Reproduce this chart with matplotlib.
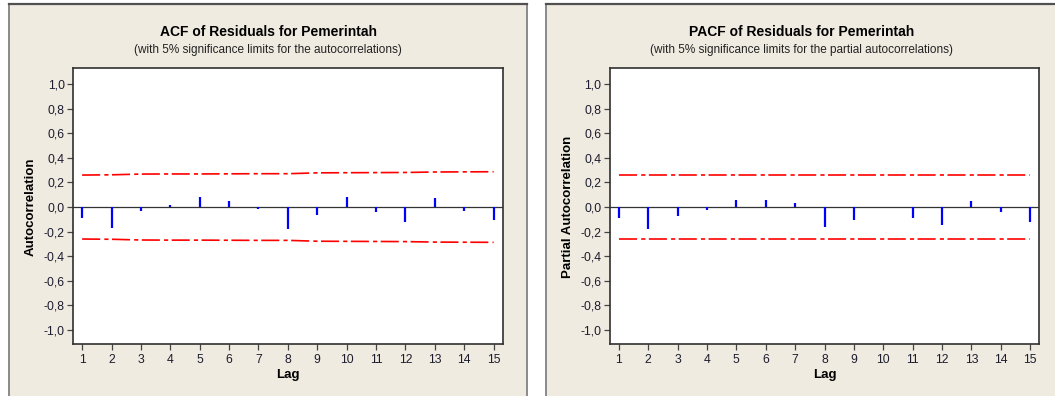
import numpy as np
import matplotlib
matplotlib.use("Agg")
import matplotlib.pyplot as plt
from matplotlib.patches import Rectangle

plt.rcParams['font.family'] = ['Liberation Sans', 'DejaVu Sans']
plt.rcParams['lines.scale_dashes'] = False

lags = np.arange(1, 16)
acf_vals = [-0.089, -0.173, -0.030, 0.013, 0.078, 0.046, -0.014, -0.181,
            -0.062, 0.078, -0.038, -0.124, 0.070, -0.030, -0.105]
acf_limit = [0.260, 0.262, 0.268, 0.269, 0.269, 0.270, 0.271, 0.271,
             0.278, 0.279, 0.280, 0.281, 0.285, 0.286, 0.287]
pacf_vals = [-0.086, -0.178, -0.070, -0.027, 0.054, 0.054, 0.030, -0.162,
             -0.103, -0.003, -0.086, -0.143, 0.046, -0.043, -0.119]
pacf_limit = [0.260] * 15
yticks = [-1.0, -0.8, -0.6, -0.4, -0.2, 0.0, 0.2, 0.4, 0.6, 0.8, 1.0]

W, H = 1055, 396
fig = plt.figure(figsize=(W / 100, H / 100), dpi=100, facecolor='white')

beige = '#EFEBE1'
# panel backgrounds (pixel coords converted to figure fractions)
for x0, x1 in [(9, 527), (546, 1065)]:
    fig.add_artist(Rectangle((x0 / W, -0.05), (x1 - x0) / W, 1.05 - 4 / H,
                             transform=fig.transFigure, facecolor=beige,
                             edgecolor='#8a8a8a', lw=1.4, zorder=-2))
    fig.add_artist(plt.Line2D([x0 / W, x1 / W], [1 - 4 / H, 1 - 4 / H],
                              transform=fig.transFigure, color='#505050',
                              lw=1.6, zorder=-1))

panels = [
    dict(left=73, right=502.7, vals=acf_vals, lim=acf_limit,
         title='ACF of Residuals for Pemerintah',
         sub='(with 5% significance limits for the autocorrelations)',
         ylabel='Autocorrelation', cx=268, ylx=31),
    dict(left=609.7, right=1039.3, vals=pacf_vals, lim=pacf_limit,
         title='PACF of Residuals for Pemerintah',
         sub='(with 5% significance limits for the partial autocorrelations)',
         ylabel='Partial Autocorrelation', cx=802, ylx=568),
]

top, bottom = 68.3, 344.3
for p in panels:
    ax = fig.add_axes([p['left'] / W, 1 - bottom / H,
                       (p['right'] - p['left']) / W, (bottom - top) / H])
    ax.set_facecolor('white')
    lim = np.array(p['lim'])
    ax.plot(lags, lim, color='red', lw=1.2, dashes=(13, 3, 3, 2.5))
    ax.plot(lags, -lim, color='red', lw=1.2, dashes=(13, 3, 3, 2.5))
    ax.axhline(0, color='#333333', lw=0.9)
    ax.vlines(lags, 0, p['vals'], colors='#0000FF', lw=1.6)
    ax.set_xlim(0.69, 15.31)
    ax.set_ylim(-1.116, 1.128)
    ax.set_xticks(lags)
    ax.set_yticks(yticks)
    ax.set_yticklabels([f'{v:.1f}'.replace('.', ',') for v in yticks])
    ax.tick_params(direction='out', length=4.5, width=0.9, color='#444444',
                   labelsize=8.8, labelcolor='#1c1c2e', pad=1.5)
    ax.tick_params(axis='x', pad=2.5)
    for s in ax.spines.values():
        s.set_color('#303030')
        s.set_linewidth(1.2)
    ax.set_xlabel('Lag', fontsize=9.5, fontweight='bold', labelpad=2)
    fig.text(p['ylx'] / W, 1 - 207 / H, p['ylabel'], rotation=90, ha='center',
             va='center', fontsize=9.5, fontweight='bold')
    fig.text(p['cx'] / W, 1 - 32 / H, p['title'], ha='center', va='center',
             fontsize=10, fontweight='bold')
    fig.text(p['cx'] / W, 1 - 50 / H, p['sub'], ha='center', va='center',
             fontsize=8.5, color='#222222')

fig.savefig('out.png', dpi=100, facecolor='white')
